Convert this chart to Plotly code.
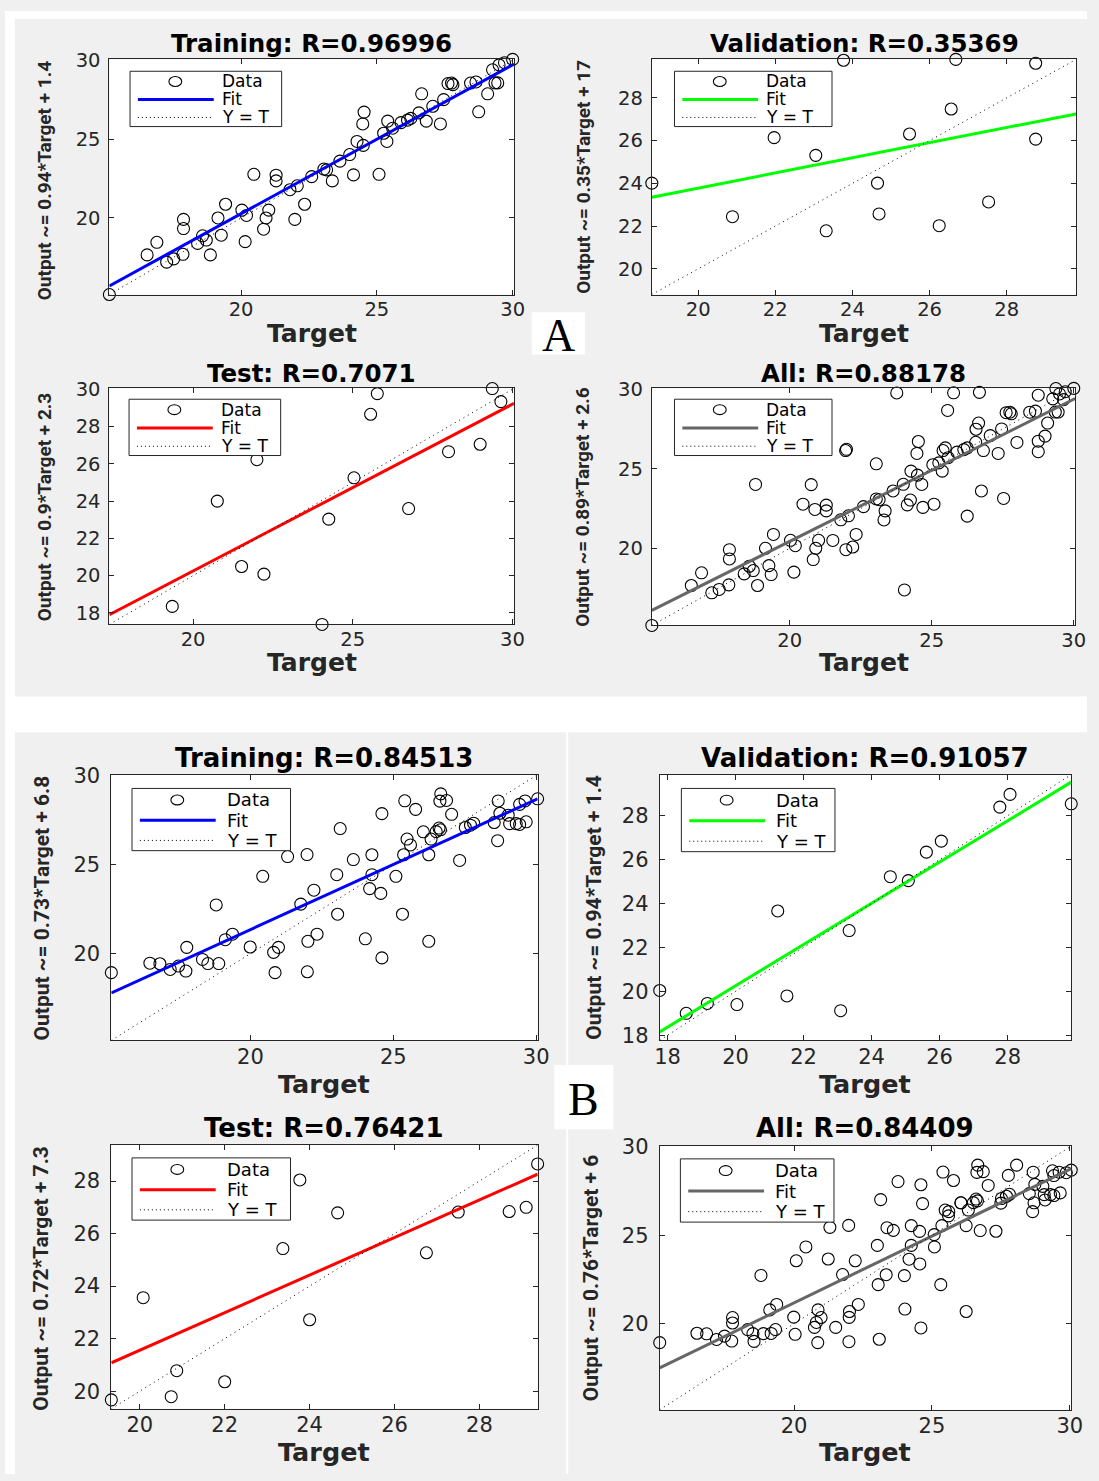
import plotly.graph_objects as go

W, H = 1099, 1481

# ---------------- data ----------------
A_train_target = [15.15, 16.54, 16.9, 17.26, 17.52, 17.86, 17.88, 17.88, 18.4, 18.58, 18.72, 18.87, 19.15, 19.27,
                  19.43, 20.03, 20.15, 20.2, 20.47, 20.83, 20.92, 21.02, 21.29, 21.29, 21.8, 21.98, 22.07, 22.34,
                  22.6, 23.05, 23.15, 23.36, 23.64, 24.0, 24.14, 24.27, 24.5, 24.53, 24.48, 25.08, 25.37, 25.25,
                  25.4, 25.58, 25.89, 26.13, 26.25, 26.55, 26.65, 26.82, 27.06, 27.34, 27.46, 27.62, 27.75, 27.8,
                  28.45, 28.65, 28.75, 29.08, 29.35, 29.45, 29.26, 29.5, 29.7, 30.0]
A_train_output = [15.15, 17.66, 18.46, 17.2, 17.41, 17.7, 19.33, 19.91, 18.39, 18.87, 18.6, 17.66, 20.0, 18.91,
                  20.87, 20.5, 18.5, 20.16, 22.77, 19.29, 20.0, 20.5, 22.71, 22.35, 21.79, 19.91, 22.04, 20.87,
                  22.62, 23.1, 23.05, 22.35, 23.6, 24.02, 22.73, 24.85, 24.6, 26.71, 25.96, 22.77, 24.85, 25.37,
                  26.14, 25.69, 26.04, 26.2, 26.31, 26.66, 27.87, 26.14, 27.08, 25.96, 27.5, 28.52, 28.55, 28.45,
                  28.55, 28.62, 26.73, 27.87, 28.56, 28.56, 29.39, 29.7, 29.84, 30.05]

A_val_target = [18.8, 20.89, 21.97, 23.05, 23.77, 23.32, 24.65, 24.69, 25.48, 26.25, 26.56, 26.68, 27.53, 28.75, 28.75]
A_val_output = [24.01, 22.44, 26.14, 25.31, 29.76, 21.78, 24.01, 22.57, 26.31, 22.02, 27.48, 29.8, 23.13, 29.62, 26.07]

A_test_target = [19.35, 20.76, 21.52, 22.0, 22.22, 24.04, 24.25, 25.04, 25.56, 25.77, 26.75, 28.0, 28.99, 29.37, 29.64]
A_test_output = [18.35, 24.0, 20.49, 26.22, 20.08, 17.38, 23.03, 25.25, 28.66, 29.77, 23.6, 26.65, 27.05, 30.04, 29.34]

B_train_target = [15.13, 16.48, 16.83, 17.19, 17.48, 17.74, 17.77, 18.32, 18.51, 18.89, 18.8, 19.12, 19.37, 19.99,
                  20.43, 20.81, 20.98, 20.86, 21.3, 21.76, 21.98, 21.99, 22.01, 22.33, 22.22, 23.05, 23.02, 23.14,
                  23.6, 24.02, 24.17, 24.25, 24.25, 24.56, 24.6, 24.6, 25.09, 25.32, 25.36, 25.4, 25.48, 25.6,
                  25.78, 26.05, 26.24, 26.24, 26.32, 26.5, 26.6, 26.65, 26.66, 26.63, 26.86, 27.04, 27.32, 27.52,
                  27.7, 27.81, 28.53, 28.67, 28.65, 28.73, 29.02, 29.07, 29.3, 29.42, 29.65, 29.42, 29.61, 30.05]
B_train_output = [18.93, 19.46, 19.43, 19.11, 19.3, 19.02, 20.35, 19.67, 19.44, 19.44, 22.73, 20.78, 21.09, 20.37,
                  24.34, 20.07, 20.35, 18.93, 25.45, 22.78, 25.56, 18.98, 20.69, 21.09, 23.56, 22.21, 24.43, 27.02,
                  25.28, 20.83, 23.65, 24.43, 25.55, 23.38, 19.76, 27.86, 24.34, 22.21, 25.55, 28.58, 26.43, 26.1,
                  28.1, 26.84, 25.55, 20.69, 26.43, 26.85, 27.05, 26.95, 28.97, 28.56, 28.6, 27.82, 25.23, 27.08,
                  27.21, 27.32, 27.36, 28.57, 26.34, 27.88, 27.77, 27.3, 27.3, 27.25, 27.4, 28.38, 28.57, 28.69]

B_val_target = [17.77, 18.55, 19.17, 20.04, 21.24, 21.51, 23.09, 23.34, 24.55, 25.08, 25.61, 26.05, 27.77, 28.07, 29.87]
B_val_output = [20.04, 19.0, 19.45, 19.4, 23.66, 19.79, 19.12, 22.77, 25.22, 25.04, 26.34, 26.84, 28.39, 28.97, 28.54]

B_test_target = [19.33, 20.08, 20.74, 20.87, 22.0, 23.37, 23.77, 24.0, 24.66, 26.75, 27.5, 28.7, 29.1, 29.37]
B_test_output = [19.67, 23.56, 19.79, 20.78, 20.36, 25.43, 28.04, 22.72, 26.79, 25.27, 26.82, 26.84, 27.0, 28.65]

# "All" = training + validation + test
A_all_target = A_train_target + A_val_target + A_test_target
A_all_output = A_train_output + A_val_output + A_test_output
B_all_target = B_train_target + B_val_target + B_test_target
B_all_output = B_train_output + B_val_output + B_test_output

titles = ["Training: R=0.96996", "Validation: R=0.35369", "Test: R=0.7071", "All: R=0.88178",
          "Training: R=0.84513", "Validation: R=0.91057", "Test: R=0.76421", "All: R=0.84409"]
ylabels = ["Output ~= 0.94*Target + 1.4", "Output ~= 0.35*Target + 17", "Output ~= 0.9*Target + 2.3",
           "Output ~= 0.89*Target + 2.6", "Output ~= 0.73*Target + 6.8", "Output ~= 0.94*Target + 1.4",
           "Output ~= 0.72*Target + 7.3", "Output ~= 0.76*Target + 6"]
fit_slopes = [0.944, 0.354, 0.895, 0.894, 0.73, 0.94, 0.715, 0.755]
fit_intercepts = [1.39, 16.7, 2.35, 2.55, 6.75, 1.45, 7.26, 6.08]
axis_limits = [[15.15, 30.05], [18.8, 29.8], [17.38, 30.05], [15.15, 30.05],
               [15.13, 30.05], [17.77, 29.87], [19.33, 29.37], [15.13, 30.05]]
xtick_values = [[20, 25, 30], [20, 22, 24, 26, 28], [20, 25, 30], [20, 25, 30],
                [20, 25, 30], [18, 20, 22, 24, 26, 28], [20, 22, 24, 26, 28], [20, 25, 30]]
ytick_values = [[20, 25, 30], [20, 22, 24, 26, 28], [18, 20, 22, 24, 26, 28, 30], [20, 25, 30],
                [20, 25, 30], [18, 20, 22, 24, 26, 28], [20, 22, 24, 26, 28], [20, 25, 30]]
legend_labels = ["Data", "Fit", "Y = T"]
fit_colors = ["#0000ff", "#00ff00", "#ff0000", "#666666"] * 2

targets = [A_train_target, A_val_target, A_test_target, A_all_target,
           B_train_target, B_val_target, B_test_target, B_all_target]
outputs = [A_train_output, A_val_output, A_test_output, A_all_output,
           B_train_output, B_val_output, B_test_output, B_all_output]

# ---------------- layout geometry (pixels) ----------------
boxes = [(106, 517, 49, 287), (657, 1088, 49, 287), (106, 517, 382, 621), (657, 1087, 382, 622),
         (108, 541, 773, 1042), (665, 1083, 773, 1042), (108, 541, 1148, 1415), (665, 1083, 1149, 1416)]
legend_boxes = [(127, 61, 154, 56), (680, 61, 160, 56), (126, 393, 154, 57), (680, 393, 160, 57),
                (129, 787, 161, 63), (687, 787, 156, 64), (129, 1161, 161, 63), (686, 1162, 156, 64)]
title_y = [33, 33, 367, 367, 756, 756, 1131, 1131]
xlabel_y = [326, 326, 660, 660, 1086, 1086, 1459, 1459]
ylabel_x = [41, 588, 41, 587, 38, 598, 37, 596]
ylabel_y = [171, 168, 502, 502, 908, 907, 1283, 1283]


def px(x):
    return x / W


def py(y):
    return 1 - y / H


INK = "#262626"
fig = go.Figure()
shapes = []
annotations = []
layout_axes = {}

for i in range(8):
    sfx = "" if i == 0 else str(i + 1)
    xa, ya = "x" + sfx, "y" + sfx
    lo, hi = axis_limits[i]
    big = i >= 4
    fig.add_trace(go.Scatter(
        x=targets[i], y=outputs[i], mode="markers", xaxis=xa, yaxis=ya, showlegend=False,
        cliponaxis=False, hoverinfo="skip",
        marker=dict(symbol="circle-open", size=12, color="black", line=dict(width=1.1, color="black"))))
    fig.add_trace(go.Scatter(
        x=[lo, hi], y=[fit_slopes[i] * lo + fit_intercepts[i], fit_slopes[i] * hi + fit_intercepts[i]],
        mode="lines", xaxis=xa, yaxis=ya, showlegend=False, hoverinfo="skip",
        line=dict(color=fit_colors[i], width=3)))
    fig.add_trace(go.Scatter(
        x=[lo, hi], y=[lo, hi], mode="lines", xaxis=xa, yaxis=ya, showlegend=False, hoverinfo="skip",
        line=dict(color="black", width=1, dash="1px,4px")))

    L, R, T, B = boxes[i]
    tfs = 21 if big else 19.5
    common = dict(showgrid=False, zeroline=False, ticks="inside", ticklen=5, tickwidth=1, tickcolor=INK,
                  showline=True, linecolor=INK, linewidth=1, mirror="ticks",
                  tickfont=dict(family="DejaVu Sans", size=tfs, color=INK))
    layout_axes["xaxis" + sfx] = dict(domain=[px(L), px(R)], range=[lo, hi], anchor=ya,
                                      tickvals=xtick_values[i], ticklabelstandoff=-3, **common)
    layout_axes["yaxis" + sfx] = dict(domain=[py(B), py(T)], range=[lo, hi], anchor=xa,
                                      tickvals=ytick_values[i], ticklabelstandoff=6 if big else 4, **common)

    cx = (L + R) / 2
    annotations.append(dict(text=titles[i], x=px(cx), y=py(title_y[i]), xref="paper", yref="paper",
                            xanchor="center", yanchor="middle", showarrow=False,
                            font=dict(family="DejaVu Sans", size=26 if big else 24.5, color="black",
                                      weight="bold")))
    annotations.append(dict(text="Target", x=px(cx), y=py(xlabel_y[i]), xref="paper", yref="paper",
                            xanchor="center", yanchor="middle", showarrow=False,
                            font=dict(family="DejaVu Sans", size=25.5 if big else 25, color=INK, weight="bold")))
    annotations.append(dict(text=ylabels[i], x=px(ylabel_x[i]), y=py(ylabel_y[i]), xref="paper", yref="paper",
                            xanchor="center", yanchor="middle", showarrow=False, textangle=-90,
                            font=dict(family="Roboto, Liberation Sans, sans-serif",
                                      size=21 if big else 19, color=INK, weight="bold")))

    # legend box
    lx, ly, lw, lh = legend_boxes[i]
    shapes.append(dict(type="rect", xref="paper", yref="paper", x0=px(lx), x1=px(lx + lw),
                       y0=py(ly + lh), y1=py(ly), fillcolor="white", line=dict(color=INK, width=1), layer="above"))
    rows = [ly + 0.185 * lh, ly + 0.51 * lh, ly + 0.835 * lh]
    shapes.append(dict(type="circle", xref="paper", yref="paper", x0=px(lx + 46 - 6.5), x1=px(lx + 46 + 6.5),
                       y0=py(rows[0] + 5), y1=py(rows[0] - 5), line=dict(color="black", width=1.1), layer="above"))
    shapes.append(dict(type="line", xref="paper", yref="paper", x0=px(lx + 8), x1=px(lx + 85),
                       y0=py(rows[1]), y1=py(rows[1]), line=dict(color=fit_colors[i], width=3), layer="above"))
    shapes.append(dict(type="line", xref="paper", yref="paper", x0=px(lx + 8), x1=px(lx + 85),
                       y0=py(rows[2]), y1=py(rows[2]), line=dict(color="black", width=1, dash="1px,3px"),
                       layer="above"))
    for k in range(3):
        annotations.append(dict(text=legend_labels[k], x=px(lx + (94 if big else 91)), y=py(rows[k]),
                                xref="paper", yref="paper", xanchor="left", yanchor="middle", showarrow=False,
                                font=dict(family="DejaVu Sans", size=18 if big else 17, color="black")))

# white separators between the two panels
for (x0, y0, x1, y1) in [(0, 0, W, 8), (0, 0, 10, H), (0, 694, W, 730)]:
    shapes.append(dict(type="rect", xref="paper", yref="paper", x0=px(x0), x1=px(x1), y0=py(y1), y1=py(y0),
                       fillcolor="white", line=dict(width=0), layer="below"))
shapes.append(dict(type="line", xref="paper", yref="paper", x0=px(571), x1=px(571), y0=0, y1=py(730),
                   line=dict(color="white", width=2), layer="below"))
# panel letters
for (letter, x0, y0, x1, y1) in [("A", 535, 305, 589, 348), ("B", 558, 1067, 618, 1132)]:
    shapes.append(dict(type="rect", xref="paper", yref="paper", x0=px(x0), x1=px(x1), y0=py(y1), y1=py(y0),
                       fillcolor="white", line=dict(width=0), layer="above"))
    annotations.append(dict(text=letter, x=px((x0 + x1) / 2), y=py((y0 + y1) / 2 + 2), xref="paper",
                            yref="paper", xanchor="center", yanchor="middle", showarrow=False,
                            font=dict(family="Liberation Serif, DejaVu Serif, serif", size=46, color="black")))

fig.update_layout(width=W, height=H, margin=dict(l=0, r=0, t=0, b=0), paper_bgcolor="#f0f0f0",
                  plot_bgcolor="white", showlegend=False, shapes=shapes, annotations=annotations, **layout_axes)
fig.write_html("out.html", post_script="document.body.style.margin='0px';")
